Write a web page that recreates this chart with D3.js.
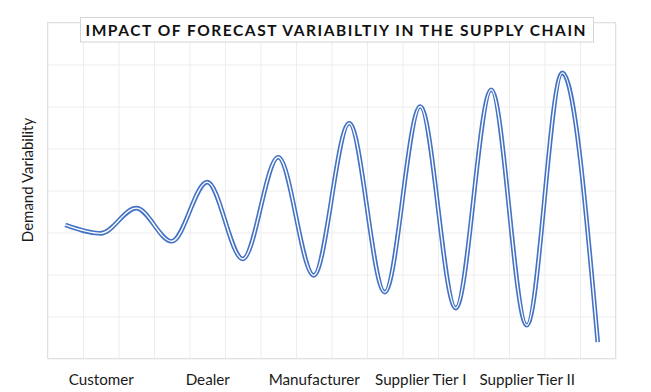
<!DOCTYPE html>
<html>
<head>
<meta charset="utf-8">
<script src="https://cdn.jsdelivr.net/npm/d3@7"></script>
<style>
  html, body { margin: 0; padding: 0; background: #ffffff; }
  svg { display: block; }
</style>
</head>
<body>
<svg id="chart" width="651" height="392"></svg>
<script>
// ---- data ----
const titleText = "IMPACT OF FORECAST VARIABILTIY IN THE SUPPLY CHAIN";
const yAxisTitle = "Demand Variability";
const categories = ["Customer", "Dealer", "Manufacturer", "Supplier Tier I", "Supplier Tier II"];
const categoryX = [1.5, 4.5, 7.5, 10.5, 13.5];
const seriesX = [0.5, 1.5, 2.5, 3.5, 4.5, 5.5, 6.5, 7.5, 8.5, 9.5, 10.5, 11.5, 12.5, 13.5, 14.5, 15.5];
const seriesY = [3.18, 2.98, 3.58, 2.79, 4.2, 2.37, 4.79, 1.98, 5.6, 1.58, 6.0, 1.2, 6.4, 0.79, 6.8, 0.39];
const xGridTicks = d3.range(0, 17);
const yGridTicks = d3.range(0, 9);

// ---- layout ----
const svg = d3.select("#chart");
const plot = { left: 47.5, right: 615.5, top: 22.5, bottom: 358.5 };
const x = d3.scaleLinear().domain([0, 16]).range([plot.left, plot.right]);
const y = d3.scaleLinear().domain([0, 8]).range([plot.bottom, plot.top]);
const font = "Lato, 'Open Sans', sans-serif";

// gridlines
const gx = svg.append("g")
  .attr("transform", `translate(0,${plot.bottom})`)
  .call(d3.axisBottom(x).tickValues(xGridTicks).tickSize(-(plot.bottom - plot.top)).tickFormat(""));
gx.select(".domain").remove();
gx.selectAll("line").attr("stroke", "#ededed").attr("stroke-width", 1);

const gy = svg.append("g")
  .attr("transform", `translate(${plot.left},0)`)
  .call(d3.axisLeft(y).tickValues(yGridTicks).tickSize(-(plot.right - plot.left)).tickFormat(""));
gy.select(".domain").remove();
gy.selectAll("line").attr("stroke", "#ededed").attr("stroke-width", 1);

// border
svg.append("rect")
  .attr("x", plot.left).attr("y", plot.top)
  .attr("width", plot.right - plot.left).attr("height", plot.bottom - plot.top)
  .attr("fill", "none").attr("stroke", "#e0e0e0").attr("stroke-width", 1);

// line (double compound line)
const line = d3.line()
  .x((d, i) => x(seriesX[i]))
  .y(d => y(d))
  .curve(d3.curveMonotoneX);

svg.append("path")
  .datum(seriesY)
  .attr("d", line)
  .attr("fill", "none")
  .attr("stroke", "#4472C4")
  .attr("stroke-width", 4.6);
svg.append("path")
  .datum(seriesY)
  .attr("d", line)
  .attr("fill", "none")
  .attr("stroke", "#ffffff")
  .attr("stroke-width", 1.4);

// x category labels
const xa = svg.append("g")
  .attr("transform", `translate(0,${plot.bottom})`)
  .call(d3.axisBottom(x).tickValues(categoryX).tickSize(0).tickPadding(16)
    .tickFormat((d, i) => categories[i]));
xa.select(".domain").remove();
xa.selectAll("text")
  .attr("font-family", font)
  .attr("font-size", 15.2)
  .attr("fill", "#1a1a1a");

// y axis title
svg.append("text")
  .attr("transform", `translate(33,180) rotate(-90)`)
  .attr("text-anchor", "middle")
  .attr("font-family", font)
  .attr("font-size", 15)
  .attr("fill", "#1a1a1a")
  .text(yAxisTitle);

// title box
svg.append("rect")
  .attr("x", 80.5).attr("y", 17.5)
  .attr("width", 513).attr("height", 24.5)
  .attr("fill", "#ffffff")
  .attr("stroke", "#d4d4d4")
  .attr("stroke-width", 1);
svg.append("text")
  .attr("x", 85.5).attr("y", 35.5)
  .attr("font-family", font)
  .attr("font-size", 15.5)
  .attr("font-weight", "bold")
  .attr("fill", "#111")
  .attr("textLength", 500)
  .attr("lengthAdjust", "spacing")
  .text(titleText);
</script>
</body>
</html>
